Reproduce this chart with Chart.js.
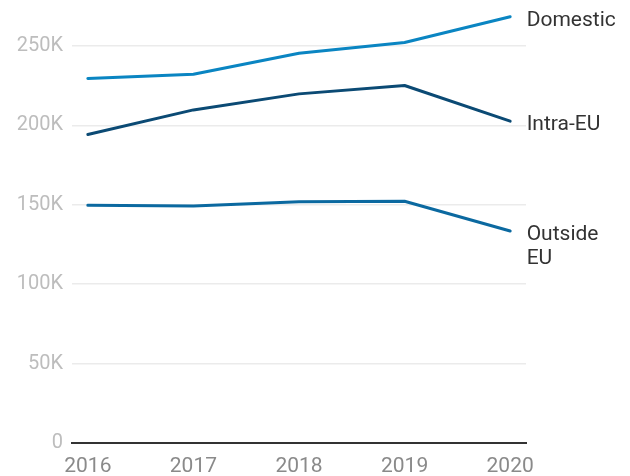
<!DOCTYPE html>
<html>
<head>
<meta charset="utf-8">
<script src="https://cdn.jsdelivr.net/npm/chart.js@4"></script>
<style>
  html, body { margin: 0; padding: 0; background: #fff; }
  #wrap { width: 630px; height: 476px; }
</style>
</head>
<body>
<div id="wrap"><canvas id="c" width="630" height="476"></canvas></div>
<script>
const years = [2016, 2017, 2018, 2019, 2020];
const seriesNames = ["Domestic", "Intra-EU", ["Outside", "EU"]];
const domestic = [229600, 232200, 245500, 252300, 268500];
const intraEU = [194300, 209800, 219900, 225200, 202700];
const outsideEU = [149800, 149200, 151900, 152300, 133500];
const yTicks = [0, 50000, 100000, 150000, 200000, 250000];
const colors = ["#0a85c2", "#0b4a74", "#0b69a0"];

function toPoints(vals) { return years.map((y, i) => ({ x: y, y: vals[i] })); }

const endLabels = {
  id: 'endLabels',
  afterDatasetsDraw(chart) {
    const ctx = chart.ctx;
    ctx.save();
    ctx.font = '21px Roboto';
    ctx.fillStyle = '#333';
    ctx.textAlign = 'left';
    ctx.textBaseline = 'middle';
    chart.data.datasets.forEach((ds, i) => {
      const meta = chart.getDatasetMeta(i);
      const last = meta.data[meta.data.length - 1];
      const lines = Array.isArray(ds.label) ? ds.label : [ds.label];
      lines.forEach((t, k) => {
        ctx.fillText(t, last.x + 16.5, last.y + 4 + k * 24);
      });
    });
    ctx.restore();
  }
};

new Chart(document.getElementById('c'), {
  type: 'line',
  data: {
    datasets: [
      { label: seriesNames[0], data: toPoints(domestic), borderColor: colors[0] },
      { label: seriesNames[1], data: toPoints(intraEU), borderColor: colors[1] },
      { label: seriesNames[2], data: toPoints(outsideEU), borderColor: colors[2] }
    ]
  },
  options: {
    responsive: false,
    animation: false,
    layout: { padding: { left: 0, right: 104, top: 0, bottom: 0 } },
    elements: {
      line: { borderWidth: 3, tension: 0, borderCapStyle: 'round', borderJoinStyle: 'round' },
      point: { radius: 0 }
    },
    plugins: { legend: { display: false }, tooltip: { enabled: false } },
    clip: false,
    scales: {
      x: {
        type: 'linear',
        min: 2015.85,
        max: 2020.15,
        afterBuildTicks: s => { s.ticks = years.map(v => ({ value: v })); },
        afterFit: s => { s.height = 33; },
        ticks: {
          color: '#8a8a8a',
          font: { family: 'Roboto', size: 21 },
          padding: 11,
          maxRotation: 0,
          callback: v => String(v)
        },
        grid: { display: false, drawTicks: false },
        border: { display: true, color: '#333', width: 2 }
      },
      y: {
        min: 0,
        max: 265800,
        afterBuildTicks: s => { s.ticks = yTicks.map(v => ({ value: v })); },
        afterFit: s => { s.width = 72; },
        ticks: {
          color: '#bdbdbd',
          font: { family: 'Roboto', size: 20 },
          padding: 9,
          callback: v => v === 0 ? '0' : (v / 1000) + 'K'
        },
        grid: { color: '#ebebeb', lineWidth: 1.5, drawTicks: false },
        border: { display: false }
      }
    }
  },
  plugins: [endLabels]
});
</script>
</body>
</html>
